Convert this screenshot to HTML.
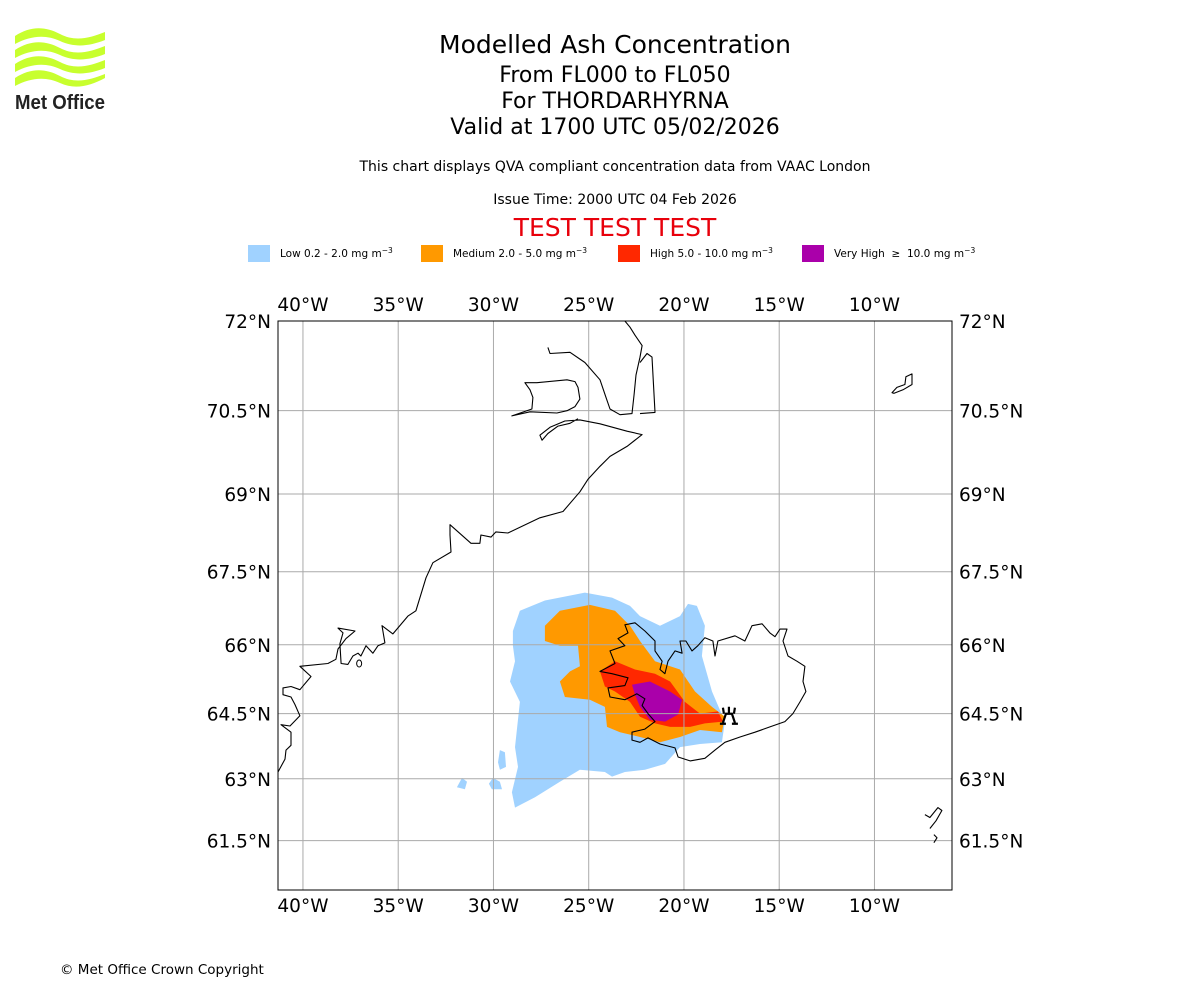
<!DOCTYPE html>
<html><head><meta charset="utf-8">
<style>
html,body{margin:0;padding:0;background:#fff;}
body{width:1200px;height:1000px;position:relative;overflow:hidden;font-family:"DejaVu Sans","Liberation Sans",sans-serif;}
.t{position:absolute;left:0;width:1230px;text-align:center;color:#000;white-space:nowrap;}
</style></head><body>
<div class="t" style="top:30px;font-size:25px;">Modelled Ash Concentration</div>
<div class="t" style="top:63px;font-size:22px;">From FL000 to FL050</div>
<div class="t" style="top:89px;font-size:22px;">For THORDARHYRNA</div>
<div class="t" style="top:115px;font-size:22px;">Valid at 1700 UTC 05/02/2026</div>
<div class="t" style="top:159px;font-size:14px;">This chart displays QVA compliant concentration data from VAAC London</div>
<div class="t" style="top:192px;font-size:14px;">Issue Time: 2000 UTC 04 Feb 2026</div>
<div class="t" style="top:213px;font-size:25px;color:#e8000b;">TEST TEST TEST</div>
<div style="position:absolute;left:60px;top:962px;font-size:13.5px;">© Met Office Crown Copyright</div>

<svg style="position:absolute;left:10px;top:28px" width="100" height="86" viewBox="0 0 100 86">
  <g fill="#c8ff2e">
    <path d="M5 8 C20 -2 35 -2 50 6 C65 14 80 10 95 4 L95 12 C80 18 65 20 50 13 C35 6 20 8 5 16Z"/>
    <path d="M5 22 C20 12 35 12 50 20 C65 28 80 24 95 18 L95 26 C80 32 65 34 50 27 C35 20 20 22 5 30Z"/>
    <path d="M5 36 C20 26 35 26 50 34 C65 42 80 38 95 32 L95 40 C80 46 65 48 50 41 C35 34 20 36 5 44Z"/>
    <path d="M5 50 C20 40 35 40 50 48 C65 56 80 52 95 46 L95 50 C80 58 65 62 50 55 C35 48 20 50 5 58Z"/>
  </g>
  <text x="5" y="81" font-family="Liberation Sans, sans-serif" font-weight="bold" font-size="20" fill="#222" textLength="90" lengthAdjust="spacingAndGlyphs">Met Office</text>
</svg>

<svg id="chart" width="1200" height="1000" style="position:absolute;left:0;top:0;pointer-events:none"></svg>

<script>
// Legend categories
const legendLabels = ["Low 0.2 - 2.0 mg m", "Medium 2.0 - 5.0 mg m", "High 5.0 - 10.0 mg m", "Very High  \u2265  10.0 mg m"];
const legendColors = ["#a0d2ff", "#ff9900", "#ff2800", "#aa00aa"];
// Axis ticks
const lonTicks = [-40, -35, -30, -25, -20, -15, -10];
const latTicks = [72, 70.5, 69, 67.5, 66, 64.5, 63, 61.5];
const lonRange = [-41.31, -5.93];
const latRange = [60.25, 72];
// Ash concentration polygons [lon, lat]
const ashLow = [[-28.98,66.29],[-28.61,66.71],[-27.3,66.92],[-25.2,67.08],[-23.78,66.98],[-22.83,66.81],[-22.31,66.6],[-21.26,66.4],[-20.21,66.6],[-19.79,66.85],[-19.32,66.81],[-18.9,66.4],[-19.06,65.76],[-18.53,64.99],[-17.85,64.32],[-18.01,63.85],[-19.16,63.81],[-20.21,63.74],[-20.99,63.35],[-22.05,63.21],[-23.1,63.16],[-23.78,63.05],[-24.15,63.16],[-25.46,63.21],[-26.51,62.93],[-27.82,62.56],[-28.87,62.31],[-29.03,62.68],[-28.71,63.28],[-28.87,63.74],[-28.61,64.76],[-29.13,65.21],[-28.87,65.65],[-28.98,65.98]];
const ashLowIsle1 = [[-29.76,63.39],[-29.66,63.67],[-29.4,63.62],[-29.34,63.28],[-29.66,63.21]];
const ashLowIsle2 = [[-31.92,62.8],[-31.65,63.02],[-31.39,62.93],[-31.5,62.75]];
const ashLowIsle3 = [[-30.24,62.88],[-30.03,63.02],[-29.66,62.93],[-29.55,62.75],[-30.08,62.75]];
const ashMedium = [[-27.3,66.4],[-26.51,66.71],[-24.94,66.83],[-23.62,66.71],[-22.83,66.4],[-22.31,66.08],[-21.52,65.65],[-20.21,65.47],[-19.42,64.99],[-18.53,64.65],[-17.85,64.43],[-18.01,64.08],[-19.16,64.13],[-20.21,63.97],[-21.26,63.85],[-22.31,63.97],[-23.36,64.08],[-24.04,64.2],[-24.15,64.65],[-24.94,64.81],[-26.25,64.87],[-26.51,65.21],[-25.98,65.43],[-25.46,65.54],[-25.56,65.98],[-26.51,65.98],[-27.3,66.08]];
const ashHigh = [[-24.41,65.43],[-23.62,65.65],[-22.57,65.47],[-21.52,65.38],[-20.73,65.21],[-19.95,64.76],[-19.16,64.5],[-18.22,64.55],[-17.95,64.32],[-18.9,64.28],[-19.68,64.2],[-20.73,64.2],[-21.52,64.28],[-22.31,64.43],[-22.83,64.76],[-23.62,64.99],[-24.15,65.1]];
const ashVeryHigh = [[-22.73,65.14],[-21.79,65.21],[-20.73,64.99],[-20.1,64.81],[-20.31,64.48],[-20.99,64.32],[-21.79,64.36],[-22.31,64.65],[-22.57,64.92]];
// Coastlines [lon, lat]
const greenlandSouth = [[-41.31,63.16],[-40.94,63.46],[-40.89,63.67],[-40.63,63.78],[-40.63,64.08],[-41.15,64.25],[-40.68,64.22],[-40.16,64.45],[-40.42,64.7],[-40.63,64.87],[-41.05,64.92],[-41.05,65.07],[-40.63,65.1],[-40.16,65.03],[-39.58,65.32],[-40.16,65.54],[-38.69,65.6],[-38.27,65.69],[-38.16,65.91],[-37.74,66.13],[-37.27,66.29],[-38.16,66.35],[-37.9,66.25],[-38.06,66.02],[-38.0,65.6],[-37.64,65.58],[-37.38,65.76],[-37.11,65.82],[-36.96,65.76],[-36.69,65.98],[-36.33,65.82],[-36.06,65.98],[-35.7,66.04],[-35.85,66.4],[-35.28,66.23],[-34.49,66.6],[-34.07,66.71],[-33.54,67.38],[-33.18,67.68],[-32.23,67.89],[-32.28,68.22],[-32.28,68.42],[-31.18,68.06],[-30.71,68.06],[-30.66,68.22],[-30.13,68.18],[-29.87,68.28],[-29.24,68.26],[-27.56,68.55],[-26.35,68.67],[-25.46,69.04],[-25.04,69.27],[-24.41,69.51],[-23.88,69.69],[-22.99,69.87],[-22.2,70.08],[-22.99,70.14],[-24.41,70.27],[-25.46,70.34],[-26.25,70.32],[-27.03,70.21],[-27.56,70.07],[-27.45,69.98],[-27.14,70.1],[-26.61,70.23],[-25.98,70.28],[-25.56,70.36]];
const milneLand = [[-29.03,70.41],[-28.08,70.48],[-26.67,70.46],[-26.14,70.5],[-25.72,70.57],[-25.46,70.7],[-25.56,70.9],[-25.72,71.0],[-26.14,71.03],[-27.72,70.98],[-28.35,70.98],[-28.08,70.86],[-27.93,70.73],[-27.98,70.53]];
const greenlandNorth = [[-27.14,71.57],[-27.03,71.47],[-25.98,71.49],[-25.2,71.32],[-24.41,71.03],[-24.09,70.73],[-23.88,70.53],[-23.36,70.43],[-22.73,70.45],[-22.62,70.78],[-22.52,71.11],[-22.31,71.41],[-22.2,71.6],[-22.57,71.77],[-22.83,71.9],[-23.1,72.0]];
const traillStrip = [[-22.31,71.32],[-21.94,71.47],[-21.68,71.41],[-21.52,70.47],[-22.31,70.45]];
const iceland = [[-24.41,65.43],[-23.62,65.6],[-23.88,65.87],[-23.1,65.98],[-23.46,66.13],[-22.94,66.25],[-23.1,66.42],[-22.57,66.46],[-22.05,66.29],[-21.52,66.08],[-21.52,65.87],[-21.15,65.65],[-21.26,65.47],[-21.0,65.38],[-20.84,65.65],[-20.47,65.87],[-20.1,65.82],[-20.21,66.08],[-19.9,66.08],[-19.58,65.87],[-19.27,65.98],[-18.9,66.15],[-18.48,66.08],[-18.37,65.76],[-18.22,66.08],[-17.32,66.19],[-16.8,66.08],[-16.43,66.4],[-15.9,66.44],[-15.49,66.25],[-15.22,66.17],[-14.96,66.33],[-14.59,66.33],[-14.8,66.08],[-14.54,65.76],[-14.07,65.65],[-13.65,65.54],[-13.75,65.21],[-13.6,64.99],[-13.91,64.76],[-14.28,64.5],[-14.7,64.32],[-15.49,64.2],[-16.27,64.08],[-17.06,63.97],[-17.85,63.85],[-18.37,63.67],[-18.9,63.48],[-19.68,63.42],[-20.31,63.51],[-20.47,63.72],[-21.26,63.81],[-21.89,63.95],[-22.31,63.85],[-22.73,63.9],[-22.73,64.08],[-22.05,64.15],[-21.52,64.32],[-21.89,64.5],[-22.2,64.68],[-22.05,64.83],[-22.47,64.94],[-23.1,64.81],[-23.88,64.87],[-23.99,65.07],[-23.1,65.12],[-22.94,65.29],[-23.78,65.38],[-24.41,65.43]];
const janMayen = [[-9.08,70.81],[-8.82,70.9],[-8.4,70.95],[-8.35,71.08],[-8.03,71.13],[-8.03,70.95],[-8.5,70.86],[-8.97,70.8],[-9.08,70.81]];
const faroes1 = [[-7.35,62.14],[-7.09,62.07],[-6.67,62.31],[-6.46,62.24],[-6.77,61.99],[-7.09,61.8]];
const faroes2 = [[-6.88,61.65],[-6.72,61.57],[-6.88,61.45]];
const volcano = [-17.64, 64.43];

const NS = "http://www.w3.org/2000/svg";
const svg = document.getElementById('chart');
const PX0 = 278, PX1 = 952, PY0 = 321, PY1 = 890;
function merc(lat){ return Math.log(Math.tan(Math.PI/4 + lat*Math.PI/360)); }
function xS(lon){ return PX0 + (lon - lonRange[0]) / (lonRange[1]-lonRange[0]) * (PX1-PX0); }
function yS(lat){ return PY0 + (merc(latRange[1]) - merc(lat)) / (merc(latRange[1]) - merc(latRange[0])) * (PY1-PY0); }
function mk(tag, attrs){ const e=document.createElementNS(NS,tag); for(const k in attrs) e.setAttribute(k,attrs[k]); svg.appendChild(e); return e; }
function pts(arr){ return arr.map(p=>xS(p[0]).toFixed(1)+','+yS(p[1]).toFixed(1)).join(' '); }

const defs = mk('defs',{});
const cp = document.createElementNS(NS,'clipPath'); cp.setAttribute('id','mapclip');
const cr = document.createElementNS(NS,'rect');
cr.setAttribute('x',PX0); cr.setAttribute('y',PY0); cr.setAttribute('width',PX1-PX0); cr.setAttribute('height',PY1-PY0);
cp.appendChild(cr); defs.appendChild(cp);
const g = mk('g',{'clip-path':'url(#mapclip)'});
function add(tag, attrs, name){ const e=document.createElementNS(NS,tag); for(const k in attrs) e.setAttribute(k,attrs[k]); g.appendChild(e);   return e; }

[[ashLow,0,'ash-low'],[ashLowIsle1,0,'ash-low-patch'],[ashLowIsle2,0,'ash-low-patch'],[ashLowIsle3,0,'ash-low-patch'],[ashMedium,1,'ash-medium'],[ashHigh,2,'ash-high'],[ashVeryHigh,3,'ash-very-high']].forEach(s=>{
  add('polygon',{points:pts(s[0]),fill:legendColors[s[1]],stroke:'none'}, s[2]);
});
lonTicks.forEach(l=>{ add('line',{x1:xS(l),x2:xS(l),y1:PY0,y2:PY1,stroke:'#aaaaaa','stroke-width':1}, 'longitude-gridline'); });
latTicks.forEach(l=>{ add('line',{x1:PX0,x2:PX1,y1:yS(l),y2:yS(l),stroke:'#aaaaaa','stroke-width':1}, 'latitude-gridline'); });
[[greenlandSouth,'greenland-coast',false],[milneLand,'milne-land-coast',true],[greenlandNorth,'greenland-north-coast',false],[traillStrip,'traill-coast',false],[iceland,'iceland-coast',true],[janMayen,'jan-mayen-coast',true],[faroes1,'faroes-coast',false],[faroes2,'faroes-coast',false]].forEach(c=>{
  add(c[2]?'polygon':'polyline',{points:pts(c[0]),fill:'none',stroke:'#000','stroke-width':1.1,'stroke-linejoin':'round'}, c[1]);
});
add('ellipse',{cx:xS(-37.05),cy:yS(65.6),rx:2.5,ry:3.5,fill:'none',stroke:'#000','stroke-width':1}, 'islet-coast');
const vx = xS(volcano[0]), vy = yS(volcano[1]);
add('path',{d:`M${vx-6},${vy+6} L${vx-3},${vy-3} L${vx+3},${vy-3} L${vx+6},${vy+6} M${vx-5},${vy-3} L${vx-6},${vy-9} M${vx},${vy-3} L${vx},${vy-10} M${vx+5},${vy-3} L${vx+6},${vy-9} M${vx-9},${vy+7} L${vx-3},${vy+7} M${vx+3},${vy+7} L${vx+9},${vy+7}`,fill:'none',stroke:'#000','stroke-width':2.2}, 'volcano-marker');

const fr = mk('rect',{x:PX0,y:PY0,width:PX1-PX0,height:PY1-PY0,fill:'none',stroke:'#000','stroke-width':1});



function lonLbl(l){ return Math.abs(l)+'\u00b0'+(l<0?'W':'E'); }
function latLbl(l){ return l+'\u00b0N'; }
lonTicks.forEach(l=>{
  [[PY0-10,'top'],[PY1+22,'bottom']].forEach(p=>{
    const t = mk('text',{x:xS(l),y:p[0],'text-anchor':'middle','font-size':18.5,'font-family':'DejaVu Sans, Liberation Sans, sans-serif'});
    t.textContent = lonLbl(l);
    
    
  });
});
latTicks.forEach(l=>{
  const a = mk('text',{x:PX0-7,y:yS(l)+7,'text-anchor':'end','font-size':18.5,'font-family':'DejaVu Sans, Liberation Sans, sans-serif'});
  a.textContent = latLbl(l);
  
  
  const b = mk('text',{x:PX1+7,y:yS(l)+7,'text-anchor':'start','font-size':18.5,'font-family':'DejaVu Sans, Liberation Sans, sans-serif'});
  b.textContent = latLbl(l);
  
  
});

const legX = [248, 421, 618, 802];
legendLabels.forEach((lab,i)=>{
  const r = mk('rect',{x:legX[i],y:245,width:22,height:17,fill:legendColors[i]});
  
  
  const t = mk('text',{x:legX[i]+32,y:257,'font-size':10.5,'font-family':'DejaVu Sans, Liberation Sans, sans-serif','xml:space':'preserve'});
  t.setAttribute('style','white-space:pre');
  t.textContent = lab;
  const sup = document.createElementNS(NS,'tspan');
  sup.setAttribute('dy','-4'); sup.setAttribute('font-size','7.5');
  sup.textContent = '\u22123';
  t.appendChild(sup);
  
  
});
</script>
</body></html>
